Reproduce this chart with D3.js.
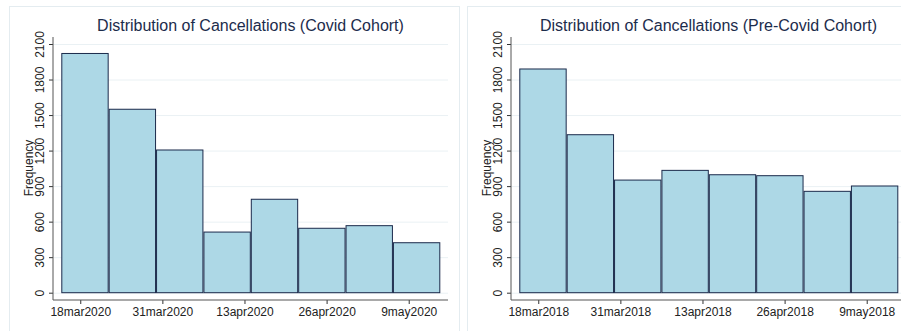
<!DOCTYPE html>
<html>
<head>
<meta charset="utf-8">
<script src="https://cdn.jsdelivr.net/npm/d3@7"></script>
<style>
    html, body { margin: 0; padding: 0; background: #fff; }
    svg { display: block; }
</style>
</head>
<body>
<div id="chart"></div>
<script>
// bin edges (Stata histogram, 8 bins) and counts per bin
const covidEdges = ["2020-03-15T00:00", "2020-03-22T12:00", "2020-03-30T00:00", "2020-04-06T12:00",
    "2020-04-14T00:00", "2020-04-21T12:00", "2020-04-29T00:00", "2020-05-06T12:00", "2020-05-14T00:00"];
const covidCounts = [2020, 1549, 1205, 512, 789, 544, 566, 422];
const covidTicks = ["2020-03-18", "2020-03-31", "2020-04-13", "2020-04-26", "2020-05-09"];

const preCovidEdges = ["2018-03-15T00:00", "2018-03-22T12:00", "2018-03-30T00:00", "2018-04-06T12:00",
    "2018-04-14T00:00", "2018-04-21T12:00", "2018-04-29T00:00", "2018-05-06T12:00", "2018-05-14T00:00"];
const preCovidCounts = [1889, 1334, 951, 1033, 996, 988, 856, 901];
const preCovidTicks = ["2018-03-18", "2018-03-31", "2018-04-13", "2018-04-26", "2018-05-09"];

const yTicks = [0, 300, 600, 900, 1200, 1500, 1800, 2100];

const panels = [
    { title: "Distribution of Cancellations (Covid Cohort)", edges: covidEdges, counts: covidCounts, ticks: covidTicks },
    { title: "Distribution of Cancellations (Pre-Covid Cohort)", edges: preCovidEdges, counts: preCovidCounts, ticks: preCovidTicks }
];

const width = 901;
const height = 331;
const panelOffset = 458;
const plot = { left: 53, right: 448, top: 37, bottom: 300 };
const font = "'Liberation Sans', Arial, sans-serif";
const parseTime = d3.timeParse("%Y-%m-%dT%H:%M");
const parseDay = d3.timeParse("%Y-%m-%d");
const dayFormat = d => `${d.getDate()}${d3.timeFormat("%b")(d).toLowerCase()}${d.getFullYear()}`;

const svg = d3.select("#chart")
    .append("svg")
    .attr("width", width)
    .attr("height", height)
    .attr("viewBox", `0 0 ${width} ${height}`);

const yScale = d3.scaleLinear()
    .domain([0, 2100])
    .range([292.7, 44]);

panels.forEach((panel, i) => {
    const g = svg.append("g")
        .attr("transform", `translate(${i * panelOffset}, 0)`);

    // light panel frame
    g.append("rect")
        .attr("x", 9.5)
        .attr("y", 6.5)
        .attr("width", 450)
        .attr("height", 340)
        .attr("fill", "#fff")
        .attr("stroke", "#e4ecf0");

    const edges = panel.edges.map(parseTime);
    const bins = panel.counts.map((count, k) => ({ x0: edges[k], x1: edges[k + 1], count }));

    const xScale = d3.scaleTime()
        .domain([edges[0], edges[edges.length - 1]])
        .range([plot.left + 8.3, plot.right - 7.7]);

    // gridlines
    g.append("g")
        .attr("class", "y-grid")
        .attr("transform", `translate(${plot.left}, 0)`)
        .call(d3.axisLeft(yScale).tickValues(yTicks).tickSize(-(plot.right - plot.left)).tickFormat(""))
        .call(s => s.select(".domain").remove())
        .call(s => s.selectAll(".tick line").attr("stroke", "#eaf1f4").attr("stroke-width", 1));

    // bars
    g.append("g")
        .selectAll("rect")
        .data(bins)
        .join("rect")
        .attr("x", d => xScale(d.x0) + 0.5)
        .attr("y", d => yScale(d.count))
        .attr("width", d => xScale(d.x1) - xScale(d.x0) - 1)
        .attr("height", d => yScale(0) - yScale(d.count))
        .attr("fill", "#add8e6")
        .attr("stroke", "#1b2a4b")
        .attr("stroke-width", 1);

    // y axis
    g.append("g")
        .attr("class", "y-axis")
        .attr("transform", `translate(${plot.left}, 0)`)
        .call(d3.axisLeft(yScale).tickValues(yTicks).tickSize(4).tickFormat(d3.format("d")))
        .call(s => s.select(".domain").remove())
        .call(s => s.selectAll(".tick line").attr("stroke", "#333"))
        .call(s => s.selectAll(".tick text")
            .attr("transform", "rotate(-90)")
            .attr("x", 0)
            .attr("y", -9.5)
            .attr("dy", 0)
            .attr("text-anchor", "middle")
            .style("font-family", font)
            .style("font-size", "12px")
            .style("fill", "#222"));
    g.append("line")
        .attr("x1", plot.left)
        .attr("x2", plot.left)
        .attr("y1", plot.top)
        .attr("y2", plot.bottom)
        .attr("stroke", "#555");

    // x axis
    g.append("g")
        .attr("class", "x-axis")
        .attr("transform", `translate(0, ${plot.bottom})`)
        .call(d3.axisBottom(xScale).tickValues(panel.ticks.map(parseDay)).tickSize(4).tickPadding(3).tickFormat(dayFormat))
        .call(s => s.select(".domain").remove())
        .call(s => s.selectAll(".tick line").attr("stroke", "#333"))
        .call(s => s.selectAll(".tick text")
            .style("font-family", font)
            .style("font-size", "12px")
            .style("fill", "#222"));
    g.append("line")
        .attr("x1", plot.left)
        .attr("x2", plot.right)
        .attr("y1", plot.bottom)
        .attr("y2", plot.bottom)
        .attr("stroke", "#555");

    g.append("text")
        .attr("transform", "rotate(-90)")
        .attr("x", -168)
        .attr("y", 32.5)
        .attr("text-anchor", "middle")
        .style("font-family", font)
        .style("font-size", "12px")
        .style("fill", "#222")
        .text("Frequency");

    g.append("text")
        .attr("x", (plot.left + plot.right) / 2)
        .attr("y", 31)
        .attr("text-anchor", "middle")
        .style("font-family", font)
        .style("font-size", "16px")
        .style("fill", "#1c2c4c")
        .text(panel.title);
});
</script>
</body>
</html>
